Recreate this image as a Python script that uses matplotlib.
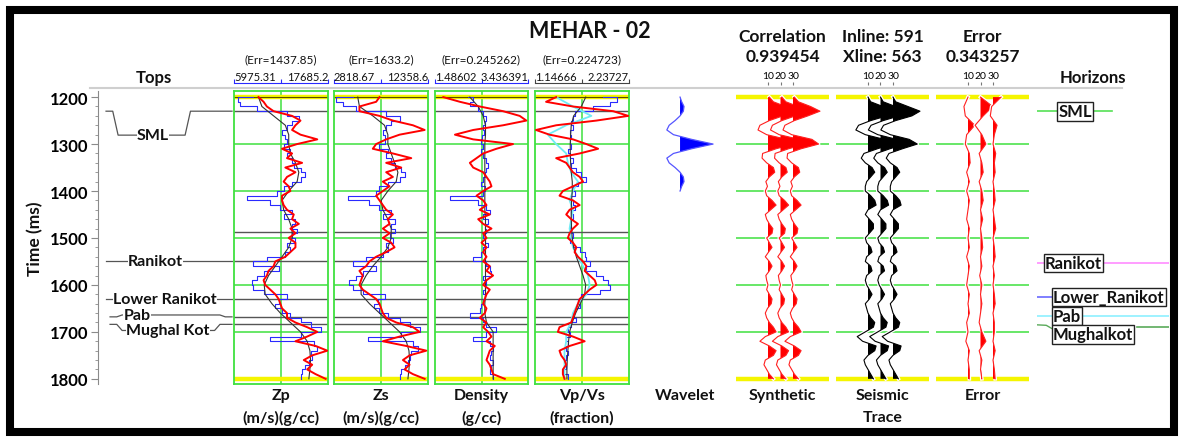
import numpy as np
import matplotlib
matplotlib.use('Agg')
import matplotlib.pyplot as plt
from matplotlib.patches import Rectangle
from matplotlib.lines import Line2D

plt.rcParams['font.family'] = ['Lato', 'DejaVu Sans']

# ---------------- data ----------------
time = np.arange(1200, 1801, 10)          # 10 ms samples
time_model = np.arange(1200, 1801, 20)    # 20 ms samples (smooth curves)

# Zp (m/s)(g/cc)
zp_range = (5975.31, 17685.2)
zp_log = [8400, 6520, 6730, 8820, 12580, 14050, 13210, 12580, 11960, 12370,
          12580, 12160, 13000, 12580, 13210, 13420, 14260, 14880, 14260, 13210,
          12160, 11330, 7560, 10490, 11750, 13210, 12160, 13630, 13210, 13840,
          13210, 13630, 12580, 13000, 12370, 10070, 8400, 11540, 9660, 8820,
          8190, 8400, 9660, 12580, 11540, 11120, 11960, 13000, 14260, 15510,
          16770, 14260, 10490, 15930, 16350, 15510, 15720, 15300, 14880, 14460,
          14260]
zp_inv = [9030, 9660, 10070, 10910, 13210, 14260, 13630, 13210, 14260, 16350,
          13840, 11960, 13210, 12580, 14460, 12370, 13630, 12580, 12160, 12790,
          13000, 11960, 11960, 12160, 12580, 13420, 13210, 14050, 13000, 13630,
          12790, 13630, 13630, 13000, 12370, 11120, 10910, 10280, 10070, 9660,
          9860, 10490, 11120, 11540, 11750, 11960, 12580, 12580, 13630, 15090,
          16350, 15090, 13630, 16140, 17600, 15720, 14670, 15720, 15090, 16140,
          17390]
zp_model = [9030, 9450, 10910, 12370, 12790, 12790, 13000, 13630, 14050, 13840,
            12790, 11960, 12160, 12790, 13210, 13210, 12790, 11960, 11120, 10280,
            9740, 9860, 10700, 11750, 13000, 14260, 15090, 15430, 15510, 15430,
            15300]

# Zs (m/s)(g/cc)
zs_range = (2818.67, 12358.6)
zs_log = [4720, 3023, 3702, 5060, 8115, 9473, 8624, 8115, 7776, 7945,
          7945, 7436, 8285, 8115, 8624, 8964, 9643, 9982, 9473, 8285,
          7436, 7097, 4211, 6418, 7436, 8624, 7776, 8964, 8624, 8964,
          8455, 8794, 8115, 8285, 7776, 6078, 4720, 7097, 5739, 5060,
          4381, 4720, 5739, 7945, 7266, 6927, 7436, 8285, 9473, 10492,
          11510, 9643, 6248, 10831, 11340, 10661, 10492, 10322, 9982, 9643,
          9473]
zs_inv = [7436, 7097, 5399, 5399, 7436, 8794, 10831, 12019, 9473, 8115,
          7097, 6757, 8794, 10661, 8115, 9643, 8115, 8794, 7776, 8455,
          7776, 7097, 7436, 7776, 8115, 8794, 8285, 8455, 7776, 8455,
          7776, 8624, 8964, 8115, 7097, 6418, 6078, 5399, 5739, 5569,
          5399, 5739, 6418, 7097, 7436, 7606, 7776, 8115, 9134, 10831,
          11510, 9473, 7776, 10152, 12189, 10492, 9813, 10492, 9982, 10831,
          12019]
zs_model = [5229, 5399, 6757, 7945, 8285, 8285, 8624, 8964, 9303, 9134,
            8285, 7606, 7776, 8285, 8624, 8624, 8285, 7606, 6757, 6078,
            5569, 5569, 6418, 7436, 8455, 9473, 10152, 10424, 10492, 10424,
            10322]

# Density (g/cc)
den_range = (1.48602, 3.436391)
den_log = [2.183, 2.287, 2.217, 2.392, 2.496, 2.566, 2.531, 2.496, 2.510, 2.482,
           2.461, 2.496, 2.461, 2.496, 2.566, 2.601, 2.566, 2.531, 2.496, 2.461,
           2.531, 2.496, 1.799, 2.392, 2.566, 2.635, 2.496, 2.601, 2.531, 2.566,
           2.496, 2.531, 2.601, 2.496, 2.461, 2.287, 2.566, 2.635, 2.670, 2.496,
           2.566, 2.531, 2.496, 2.531, 2.496, 2.461, 2.426, 2.217, 2.496, 2.566,
           2.775, 2.566, 2.287, 2.635, 2.705, 2.670, 2.635, 2.705, 2.670, 2.635,
           2.705]
den_inv = [1.660, 2.008, 2.426, 2.914, 3.262, 3.402, 2.914, 2.287, 1.904, 2.287,
           3.123, 2.775, 2.496, 2.357, 2.217, 2.287, 2.496, 2.566, 2.635, 2.670,
           2.496, 2.357, 2.496, 2.566, 2.426, 2.635, 2.392, 2.496, 2.670, 2.496,
           2.566, 2.461, 2.566, 2.496, 2.566, 2.496, 2.635, 2.566, 2.705, 2.566,
           2.496, 2.635, 2.566, 2.531, 2.496, 2.566, 2.531, 2.426, 2.566, 2.496,
           2.601, 2.670, 2.566, 2.740, 2.635, 2.601, 2.566, 2.635, 2.670, 2.705,
           2.949]
den_model = [2.217, 2.392, 2.496, 2.545, 2.545, 2.531, 2.531, 2.531, 2.531, 2.531,
             2.531, 2.531, 2.531, 2.545, 2.545, 2.545, 2.545, 2.545, 2.545, 2.545,
             2.545, 2.545, 2.531, 2.531, 2.566, 2.705, 2.705, 2.705, 2.705, 2.705,
             2.705]

# Vp/Vs (fraction)
vpvs_range = (1.14666, 2.23727)
vpvs_log = [1.937, 2.093, 2.015, 1.820, 1.606, 1.587, 1.567, 1.587, 1.548, 1.567,
            1.548, 1.567, 1.528, 1.548, 1.587, 1.567, 1.626, 1.684, 1.743, 1.645,
            1.587, 1.606, 1.548, 1.587, 1.606, 1.567, 1.587, 1.567, 1.548, 1.567,
            1.587, 1.548, 1.587, 1.665, 1.723, 1.743, 1.781, 1.743, 1.859, 1.937,
            1.996, 2.015, 1.898, 1.684, 1.645, 1.665, 1.606, 1.587, 1.626, 1.567,
            1.528, 1.548, 1.509, 1.528, 1.509, 1.528, 1.509, 1.489, 1.509, 1.470,
            1.528]
vpvs_inv = [1.392, 1.275, 1.587, 2.054, 2.229, 1.859, 1.392, 1.158, 1.314, 1.587,
            1.743, 1.879, 1.665, 1.392, 1.509, 1.548, 1.587, 1.665, 1.704, 1.587,
            1.470, 1.431, 1.587, 1.665, 1.548, 1.509, 1.567, 1.645, 1.587, 1.548,
            1.528, 1.587, 1.626, 1.606, 1.645, 1.704, 1.743, 1.723, 1.781, 1.840,
            1.859, 1.781, 1.723, 1.665, 1.645, 1.626, 1.606, 1.587, 1.567, 1.431,
            1.412, 1.587, 1.723, 1.548, 1.431, 1.450, 1.489, 1.509, 1.470, 1.470,
            1.489]
vpvs_model = [1.735, 1.684, 1.595, 1.567, 1.560, 1.556, 1.556, 1.560, 1.567, 1.579,
              1.579, 1.571, 1.567, 1.567, 1.571, 1.579, 1.595, 1.626, 1.665, 1.704,
              1.735, 1.723, 1.672, 1.618, 1.579, 1.548, 1.536, 1.528, 1.521, 1.517,
              1.517]
vpvs_init = [1.392, 1.587, 1.801, 1.509, 1.295, 1.392, 1.509, 1.528, 1.567, 1.645,
             1.587, 1.548, 1.587, 1.567, 1.548, 1.567, 1.587, 1.645, 1.704, 1.762,
             1.781, 1.743, 1.645, 1.587, 1.567, 1.509, 1.509, 1.489, 1.489, 1.489,
             1.489]

track_names = ['Zp', 'Zs', 'Density', 'Vp/Vs']
track_units = ['(m/s)(g/cc)', '(m/s)(g/cc)', '(g/cc)', '(fraction)']
track_errors = ['1437.85', '1633.2', '0.245262', '0.224723']
track_scale_labels = [('5975.31', '17685.2'), ('2818.67', '12358.6'),
                      ('1.48602', '3.436391'), ('1.14666', '2.23727')]

# well tops (ms)
top_names = ['SML', '', 'Ranikot', 'Lower Ranikot', 'Pab', 'Mughal Kot']
top_times = [1230, 1488, 1550, 1630, 1668, 1684]

# horizons picked on seismic (ms)
hz_names = ['SML', 'Ranikot', 'Lower_Ranikot', 'Pab', 'Mughalkot']
hz_times = [1230, 1553, 1626, 1666, 1689]
hz_colors = ['#55e055', '#ff8cff', '#6a6aff', '#8ef0ff', '#5aaa5a']

# wavelet (lag in ms, normalised amplitude)
wav_lag = np.arange(-100, 101, 10)
wav_amp = [0.0, 0.05, 0.12, 0.1, 0.0, -0.15, -0.33, -0.4, -0.2, 0.35, 1.0,
           0.35, -0.2, -0.4, -0.33, -0.15, 0.0, 0.1, 0.12, 0.05, 0.0]

# synthetic and seismic traces (normalised amplitude, 10 ms)
synthetic = [0.05, 0.2, 0.65, 1.0, 0.55, 0.05, -0.3, -0.37, -0.05, 0.7,
             0.95, 0.3, -0.2, -0.22, -0.05, 0.2, 0.25, 0.05, -0.08, -0.02,
             -0.1, -0.05, 0.15, 0.3, 0.1, -0.1, -0.05, 0.05, 0.18, 0.15,
             -0.05, 0.05, 0.15, 0.02, -0.1, 0.05, 0.15, 0.05, -0.08, -0.05,
             0.0, -0.05, 0.05, 0.15, 0.12, -0.02, -0.1, -0.05, 0.05, 0.2,
             0.3, -0.1, -0.3, 0.05, 0.3, 0.2, -0.1, -0.15, -0.05, 0.05,
             0.2]
seismic = [0.0, 0.1, 0.55, 1.0, 0.7, 0.1, -0.35, -0.45, -0.1, 0.6,
           0.9, 0.35, -0.15, -0.25, -0.1, 0.15, 0.25, 0.1, -0.05, -0.1,
           -0.1, 0.1, 0.25, 0.3, 0.0, -0.1, 0.05, 0.2, 0.2, 0.05,
           -0.1, -0.05, 0.1, 0.15, -0.05, -0.1, 0.1, 0.15, -0.05, -0.1,
           -0.05, 0.05, 0.15, 0.05, -0.1, -0.05, 0.0, 0.1, 0.25, 0.2,
           -0.1, -0.4, -0.2, 0.3, 0.25, 0.0, -0.15, -0.1, 0.0, 0.1,
           0.2]
trace_numbers = [10, 20, 30]

# error traces (20 ms)
error_10 = [0.0, -0.15, -0.1, 0.25, -0.05, -0.1, 0.05, 0.08, -0.05, 0.05,
            -0.05, 0.05, 0.0, -0.05, 0.05, 0.0, 0.05, -0.05, 0.05, 0.0,
            -0.05, 0.05, 0.0, 0.05, -0.05, 0.0, -0.08, 0.05, 0.0, 0.05,
            0.05]
error_20 = [0.0, 0.45, 0.1, -0.2, 0.05, 0.2, -0.05, 0.05, 0.1, -0.05,
            0.05, 0.1, 0.0, 0.08, 0.0, 0.05, 0.08, 0.0, 0.05, -0.03,
            0.05, 0.0, 0.05, 0.0, -0.05, 0.05, 0.2, -0.05, 0.05, 0.0,
            0.05]
error_30 = [0.3, -0.05, -0.1, 0.15, 0.05, 0.0, 0.1, 0.05, 0.08, 0.0,
            0.05, 0.08, 0.0, 0.05, 0.1, 0.0, 0.05, 0.08, 0.0, 0.05,
            0.0, 0.05, 0.08, 0.0, 0.05, 0.05, 0.0, 0.08, 0.0, 0.05,
            0.08]

# ---------------- layout ----------------
W, H = 1184, 439
T_TOP, T_BOT = 1187, 1811
GREEN = '#3fe03f'
YELLOW = '#f5f500'
BLUE = '#2a2aff'
RED = '#ff0000'
BOLD = dict(fontweight='bold', color='#111111')

fig = plt.figure(figsize=(W / 100, H / 100), dpi=100)


def px_axes(x0, x1, y0=92, y1=385):
    ax = fig.add_axes([x0 / W, 1 - y1 / H, (x1 - x0) / W, (y1 - y0) / H])
    ax.set_ylim(T_BOT, T_TOP)
    return ax


def fig_text(x, y, s, **kw):
    fig.text(x / W, 1 - y / H, s, ha=kw.pop('ha', 'center'),
             va=kw.pop('va', 'center'), **kw)


def below(ax, line, s, size=11.5):
    # line 0 / 1 under the track
    y = [-0.0375, -0.1126][line]
    ax.text(0.5, y, s, transform=ax.transAxes, ha='center', va='center',
            fontsize=size, **BOLD)


def time_grid(ax):
    for t in range(1300, 1800, 100):
        ax.axhline(t, color=GREEN, lw=1.1, zorder=1)
    for t in (1200, 1800):
        ax.axhline(t, color=YELLOW, lw=3.2, zorder=1)


# frame and header rule
fig.add_artist(Rectangle((10 / W, 1 - 433 / H), 1164 / W, 422 / H,
                         transform=fig.transFigure, fill=False,
                         edgecolor='black', lw=5.8))
fig.add_artist(Line2D([90 / W, 1122 / W], [1 - 89 / H, 1 - 89 / H],
                      transform=fig.transFigure, color='#cfcfcf', lw=1.5))

fig_text(590, 32, 'MEHAR - 02', fontsize=15.5, **BOLD)

# ---- tops / time axis ----
ax_t = px_axes(98, 232)
ax_t.set_xlim(0, 1)
for s in ('top', 'right', 'bottom'):
    ax_t.spines[s].set_visible(False)
ax_t.spines['left'].set_color('#8a8a8a')
ax_t.set_xticks([])
ax_t.set_yticks(np.arange(1200, 1801, 100))
ax_t.set_yticks(np.arange(1200, 1801, 20), minor=True)
ax_t.tick_params(axis='y', which='major', length=5, color='#8a8a8a',
                 labelsize=12, pad=2)
ax_t.tick_params(axis='y', which='minor', length=2.5, color='#8a8a8a')
for lab in ax_t.get_yticklabels():
    lab.set_fontweight('bold')
ax_t.set_ylabel('Time (ms)', fontsize=12.5, labelpad=5, **BOLD)
ax_t.text(0.42, 1.047, 'Tops', transform=ax_t.transAxes, ha='center',
          va='center', fontsize=12, **BOLD)

# label placement for tops: (label time, text x, left slant x, right slant x)
top_label_pos = [(1281, 0.41, 0.06, 0.74), None, (1550, 0.43, 0.06, 1.0),
                 (1630, 0.50, 0.06, 1.0), (1664, 0.29, 0.09, 1.0),
                 (1697, 0.52, 0.09, 0.96)]
for name, t, pos in zip(top_names, top_times, top_label_pos):
    if pos is None:
        continue
    tl, xt, xl, xr = pos
    xs = [xl, xl + 0.05, xl + 0.09, xr - 0.09, xr - 0.05, 1.0]
    ys = [t, t, tl, tl, t, t]
    ax_t.plot(xs, ys, color='#555555', lw=0.9, clip_on=False)
    ax_t.text(xt, tl, name, ha='center', va='center', fontsize=11.5,
              bbox=dict(fc='white', ec='none', pad=0.2), **BOLD)

# ---- log tracks ----
tracks = [
    (234, 328, zp_range, zp_log, zp_inv, zp_model, None, BLUE),
    (334, 428, zs_range, zs_log, zs_inv, zs_model, None, BLUE),
    (435, 528, den_range, den_log, den_inv, den_model, None, BLUE),
    (535, 629, vpvs_range, vpvs_log, vpvs_inv, vpvs_model, vpvs_init, '#444444'),
]
for i, (x0, x1, rng, lg, inv, mdl, init, scol) in enumerate(tracks):
    ax = px_axes(x0, x1)
    lo, hi = rng
    ax.set_xlim(lo, hi)
    ax.set_xticks([])
    ax.set_yticks([])
    for s in ax.spines.values():
        s.set_color(GREEN)
        s.set_linewidth(1.3)
    ax.axvline((lo + hi) / 2, color=GREEN, lw=1.1, zorder=1)
    time_grid(ax)
    ax.axhline(1200, color='#5a4a00', lw=0.8, zorder=1.5)
    for t in top_times:
        ax.axhline(t, color='#555555', lw=1.0, zorder=1.5)
    ax.plot(lg, time, color=BLUE, lw=0.8, drawstyle='steps-post', zorder=2)
    if init is not None:
        ax.plot(init, time_model, color='#70ecf5', lw=1.3, zorder=2.5)
    ax.plot(mdl, time_model, color='#333333', lw=0.8, zorder=3)
    ax.plot(inv, time, color=RED, lw=1.4, zorder=4)

    # scale bar above the track
    sec = ax.secondary_xaxis(1.027)
    sec.set_xticks([lo, (lo + hi) / 2, hi])
    sec.tick_params(direction='out', length=3, color=scol, labeltop=False)
    for s in sec.spines.values():
        s.set_color(scol)
    l_lab, r_lab = track_scale_labels[i]
    ax.text(0, 1.05, l_lab, transform=ax.transAxes, ha='left', va='center',
            fontsize=8, color='#111111')
    ax.text(1, 1.05, r_lab, transform=ax.transAxes, ha='right', va='center',
            fontsize=8, color='#111111')
    ax.text(0.5, 1.109, '(Err=%s)' % track_errors[i], transform=ax.transAxes,
            ha='center', va='center', fontsize=8.5, color='#111111')
    below(ax, 0, track_names[i])
    below(ax, 1, track_units[i])

# ---- wavelet ----
ax_w = px_axes(650, 720)
ax_w.set_xlim(-0.91, 1.21)
ax_w.axis('off')
wt = 1300 + wav_lag
wa = np.array(wav_amp)
ax_w.fill_betweenx(wt, 0, wa, where=wa > 0, interpolate=True, color='#0000ff', lw=0)
ax_w.plot(wa, wt, color='#5555ff', lw=0.9)
below(ax_w, 0, 'Wavelet')


# ---- wiggle columns ----
def wiggle_column(x0, x1, traces, times, color, line_color):
    ax = px_axes(x0, x1)
    ax.set_xlim(-15.6, 58.8)
    ax.set_yticks([])
    ax.set_xticks([])
    for s in ax.spines.values():
        s.set_visible(False)
    time_grid(ax)
    gain = 21.6
    for k, (tr, amp) in enumerate(zip(trace_numbers, traces)):
        x = tr + np.array(amp) * gain
        z = 3 + k
        ax.plot(x, times, color='white', lw=2.6, zorder=z)
        ax.fill_betweenx(times, tr, x, where=x > tr, interpolate=True,
                         color=color, lw=0, zorder=z)
        ax.plot(x, times, color=line_color, lw=0.8, zorder=z)
    sec = ax.secondary_xaxis(1.02)
    sec.set_xticks(trace_numbers)
    sec.set_xticklabels([str(n) for n in trace_numbers])
    sec.tick_params(length=2.5, color='#777777', labelsize=7.5, pad=1)
    for s in sec.spines.values():
        s.set_visible(False)
    return ax


def header(ax, line1, line2):
    ax.text(0.5, 1.187, line1, transform=ax.transAxes, ha='center',
            va='center', fontsize=12.5, **BOLD)
    ax.text(0.5, 1.119, line2, transform=ax.transAxes, ha='center',
            va='center', fontsize=12.5, **BOLD)


ax_s = wiggle_column(736, 829, [synthetic] * 3, time, RED, '#ff2020')
below(ax_s, 0, 'Synthetic')
header(ax_s, 'Correlation', '0.939454')

ax_q = wiggle_column(836, 929, [seismic] * 3, time, 'black', 'black')
below(ax_q, 0, 'Seismic')
below(ax_q, 1, 'Trace')
header(ax_q, 'Inline: 591', 'Xline: 563')

ax_e = wiggle_column(936, 1029, [error_10, error_20, error_30], time_model,
                     RED, '#ff2020')
below(ax_e, 0, 'Error')
header(ax_e, 'Error', '0.343257')

# ---- horizons ----
ax_h = px_axes(1037, 1169)
ax_h.set_xlim(0, 1)
ax_h.axis('off')
ax_h.text(0.42, 1.047, 'Horizons', transform=ax_h.transAxes, ha='center',
          va='center', fontsize=12, **BOLD)
# (line x extent, text x, text anchor, label time)
hz_layout = [((0, 0.57), 0.29, 'center', 1230),
             ((0, 1.0), 0.06, 'left', 1553),
             ((0, 0.12), 0.12, 'left', 1626),
             ((0, 1.0), 0.12, 'left', 1666),
             ((0.76, 1.0), 0.12, 'left', 1705)]
for name, t, col, (ext, xt, ha, tl) in zip(hz_names, hz_times, hz_colors, hz_layout):
    ax_h.plot(ext, [t, t], color=col, lw=1.2, zorder=1)
    ax_h.text(xt, tl, name, ha=ha, va='center', fontsize=12, zorder=3,
              bbox=dict(fc='white', ec='#222222', lw=1.0, pad=1.0), **BOLD)
ax_h.plot([0, 0.07, 0.12], [1685, 1686, 1694], color=hz_colors[-1], lw=1.0, zorder=1)

fig.savefig('out.png', dpi=100)
